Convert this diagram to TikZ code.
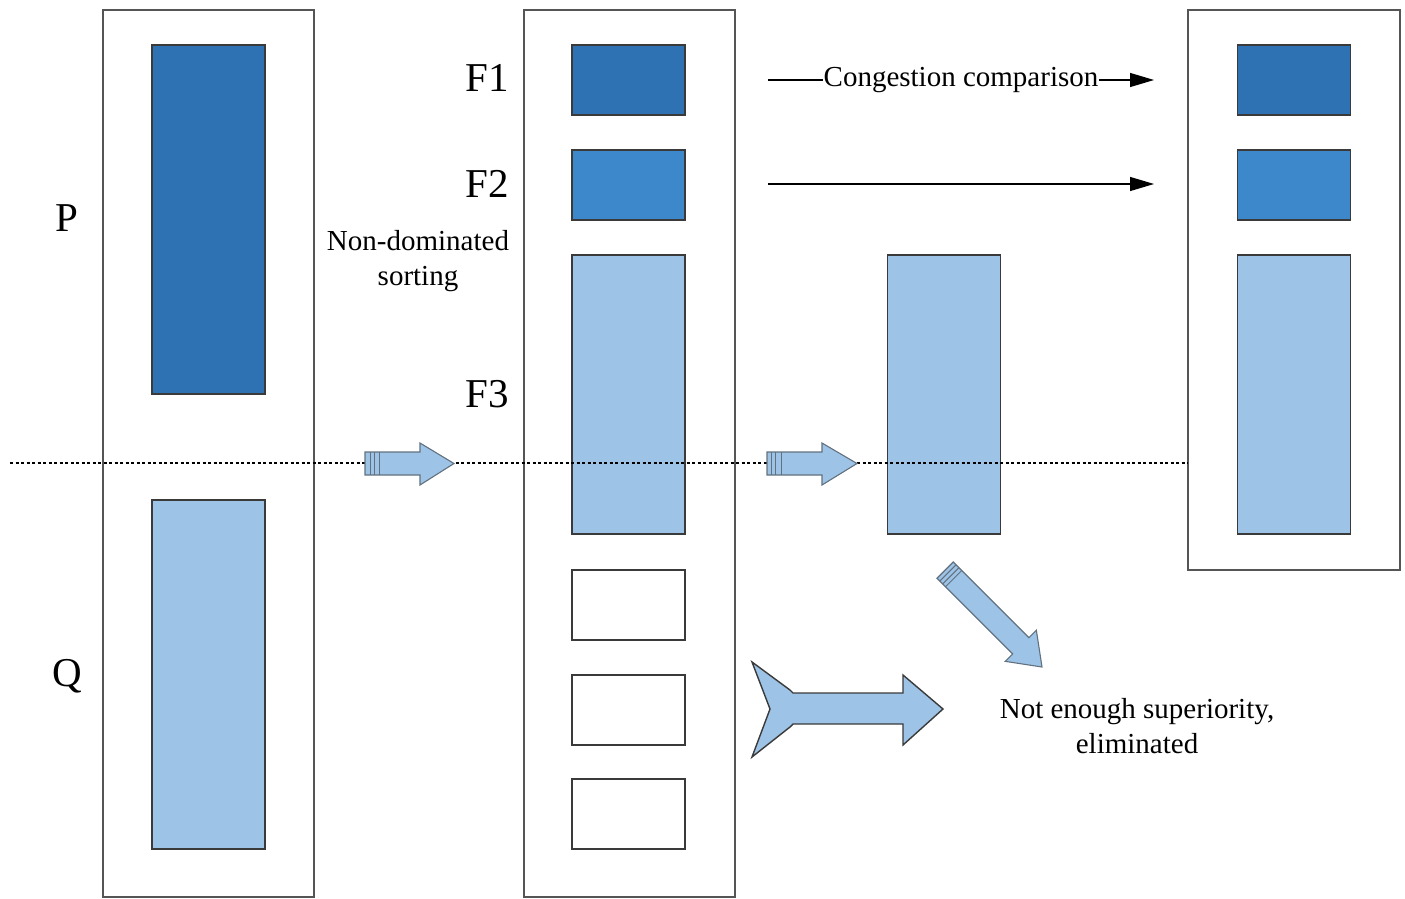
\documentclass[tikz,border=0pt]{standalone}
\usepackage{fontspec}
\setmainfont{Liberation Serif}
\usetikzlibrary{arrows.meta}
\definecolor{darkb}{HTML}{2E72B3}
\definecolor{midb}{HTML}{3C88CB}
\definecolor{lightb}{HTML}{9DC3E6}
\definecolor{arrowb}{HTML}{9DC3E6}
\definecolor{boxgray}{HTML}{555555}
\definecolor{edgeb}{HTML}{3A3A3A}
\tikzset{
  outerbox/.style={draw=boxgray, line width=2.4pt, fill=white, inner sep=0pt, outer sep=0pt},
  blk/.style={draw=edgeb, line width=1.5pt, inner sep=0pt, outer sep=0pt, minimum width=113pt},
  biglabel/.style={font=\fontsize{41}{44}\selectfont, inner sep=0pt},
  txt/.style={font=\fontsize{29}{35}\selectfont, align=center, inner sep=1pt},
  blockarrow/.style={draw=edgeb!60!arrowb, line width=1.1pt, fill=arrowb, line join=miter},
  linearrow/.style={line width=1.2pt, -{Triangle[length=24pt,width=14pt]}},
}
\begin{document}
\begin{tikzpicture}[x=1pt,y=-1pt]
\useasboundingbox (0,0) rectangle (1405,899);
% outer boxes
\node[outerbox, minimum width=211pt, minimum height=887pt] (B1) at (208.5,453.5) {};
\node[outerbox, minimum width=211pt, minimum height=887pt] (B2) at (629.5,453.5) {};
\node[outerbox, minimum width=212pt, minimum height=560pt] (B3) at (1294,290) {};
% dotted line
\coordinate (dl) at (10,463);
\coordinate (dr) at (1188,463);
% column 1
\node[blk, fill=darkb, minimum height=349pt] (P) at (208.5,219.5) {};
\node[blk, fill=lightb, minimum height=349pt] (Q) at (208.5,674.5) {};
\node[biglabel] (Pl) at (67,218) {P};
\node[biglabel] (Ql) at (67,676) {Q};
% column 2
\node[blk, fill=darkb, minimum height=70pt] (F1) at (628.5,80) {};
\node[blk, fill=midb, minimum height=70pt] (F2) at (628.5,185) {};
\node[blk, fill=lightb, minimum height=279pt] (F3) at (628.5,394.5) {};
\node[blk, fill=white, minimum height=70pt] (W1) at (628.5,605) {};
\node[blk, fill=white, minimum height=70pt] (W2) at (628.5,710) {};
\node[blk, fill=white, minimum height=70pt] (W3) at (628.5,814) {};
\node[biglabel] (F1l) at (487,78) {F1};
\node[biglabel] (F2l) at (487,184) {F2};
\node[biglabel] (F3l) at (487,394) {F3};
\node[txt] (nds) at (418,261) {Non-dominated\\sorting};
% middle
\node[blk, fill=lightb, minimum height=279pt] (M) at (944,394.5) {};
% column 3
\node[blk, fill=darkb, minimum height=70pt] (R1) at (1294,80) {};
\node[blk, fill=midb, minimum height=70pt] (R2) at (1294,185) {};
\node[blk, fill=lightb, minimum height=279pt] (R3) at (1294,394.5) {};
% dotted line drawn over
\draw[line width=1.3pt, dash pattern=on 3pt off 2.5pt] (dl) -- (dr);
% line arrows
\coordinate (a1s) at (768,80);
\coordinate (a1e) at (1154,80);
\coordinate (a2s) at (768,184);
\coordinate (a2e) at (1154,184);
\draw[linearrow] (a1s) -- node[txt, fill=white, inner xsep=1pt, pos=0.5] (cc) {Congestion comparison} (a1e);
\draw[linearrow] (a2s) -- (a2e);
% block arrow 1
\draw[blockarrow] (365,452) -- (420,452) -- (420,443) -- (454,463.5) -- (420,485) -- (420,475) -- (365,475) -- cycle;
\draw[edgeb!60!arrowb, line width=1pt] (370,452) -- (370,475) (374,452) -- (374,475) (379,452) -- (379,475);
% block arrow 2
\draw[blockarrow] (767,452) -- (822,452) -- (822,443) -- (857,463.5) -- (822,485) -- (822,475) -- (767,475) -- cycle;
\draw[edgeb!60!arrowb, line width=1pt] (771,452) -- (771,475) (775,452) -- (775,475) (781,452) -- (781,475);
% diagonal arrow
\begin{scope}[shift={(1042,667)}, rotate=-45]
\draw[blockarrow] (-137,-11.5) -- (-30,-11.5) -- (-30,-22) -- (0,0) -- (-30,22) -- (-30,11.5) -- (-137,11.5) -- cycle;
\draw[edgeb!60!arrowb, line width=1pt] (-133,-11.5) -- (-133,11.5) (-129,-11.5) -- (-129,11.5) (-125,-11.5) -- (-125,11.5);
\end{scope}
% big chevron arrow
\draw[blockarrow, line width=1.4pt, draw=edgeb] (752,662) -- (790,690) -- (793,693) -- (903,693) -- (903,675) -- (943,709) -- (903,745) -- (903,724) -- (793,724) -- (790,727) -- (752,757) -- (770,709) -- cycle;
\node[txt] (elim) at (1137,726) {Not enough superiority,\\eliminated};
\end{tikzpicture}
\end{document}
